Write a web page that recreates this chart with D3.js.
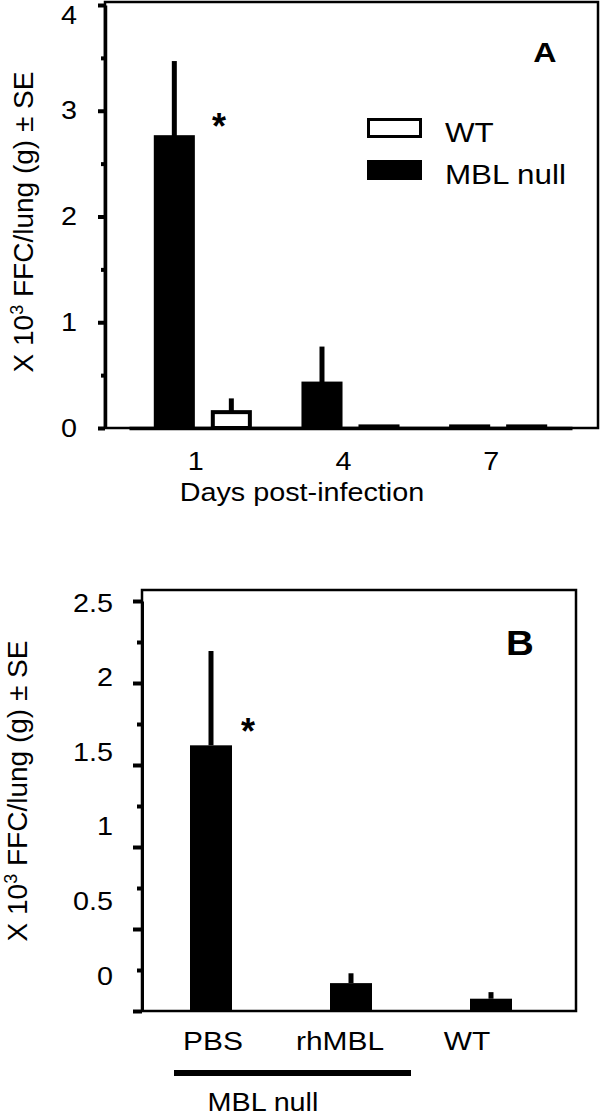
<!DOCTYPE html>
<html>
<head>
<meta charset="utf-8">
<script src="https://cdn.jsdelivr.net/npm/d3@7"></script>
<style>
  body { margin: 0; background: #fff; }
  text { font-family: "Liberation Sans", Arial, sans-serif; fill: #000; }
</style>
</head>
<body>
<script>
// panel A data
var days = ["1", "4", "7"];
var seriesA = ["MBL null", "WT"];
var mblNullMean = [2.75, 0.42, 0.015];
var mblNullSE = [0.72, 0.35, 0];
var wtMean = [0.15, 0.015, 0.015];
var wtSE = [0.13, 0, 0];
var yTicksA = [0, 0.5, 1, 1.5, 2, 2.5, 3, 3.5, 4];

// panel B data
var treatments = ["PBS", "rhMBL", "WT"];
var ffcB = [1.62, 0.17, 0.075];
var seB = [0.575, 0.06, 0.04];
var yTicksB = [0, 0.25, 0.5, 0.75, 1, 1.25, 1.5, 1.75, 2, 2.25, 2.5];
var yLabelsB = [0, 0.5, 1, 1.5, 2, 2.5];

var svg = d3.select("body").append("svg")
    .attr("width", 600)
    .attr("height", 1116);

// glyphs in the figure are a bit wider than the font, stretch them
function stretch(sel, k) {
    sel.each(function () {
        var w = this.getComputedTextLength();
        d3.select(this).attr("textLength", w * k).attr("lengthAdjust", "spacingAndGlyphs");
    });
}

function styleAxis(g, size) {
    g.attr("font-family", null).attr("font-size", null);
    g.selectAll("text").style("font-size", size + "px");
    g.selectAll(".tick line").attr("stroke", "#000").attr("stroke-width", 4);
    g.select(".domain").attr("stroke", "#000").attr("stroke-width", 3.5);
}

// ---------------- panel A ----------------
var yA = d3.scaleLinear().domain([0, 4]).range([428, 5]);
var x0A = d3.scaleBand().domain(days).range([129, 572]);
var x1A = d3.scaleBand().domain(seriesA).range([0, x0A.bandwidth()])
    .paddingInner(0.35).paddingOuter(0.47);

var rowsA = [];
days.forEach(function (d, i) {
    rowsA.push({ day: d, key: "MBL null", mean: mblNullMean[i], se: mblNullSE[i] });
    rowsA.push({ day: d, key: "WT", mean: wtMean[i], se: wtSE[i] });
});

svg.append("rect")
    .attr("x", 105).attr("y", 2)
    .attr("width", 493).attr("height", 426)
    .attr("fill", "none").attr("stroke", "#000").attr("stroke-width", 2.5);

// error bars (drawn first, bar covers the bottom)
svg.append("g").selectAll("line")
    .data(rowsA.filter(function (d) { return d.se > 0; }))
    .enter().append("line")
    .attr("x1", function (d) { return x0A(d.day) + x1A(d.key) + x1A.bandwidth() / 2; })
    .attr("x2", function (d) { return x0A(d.day) + x1A(d.key) + x1A.bandwidth() / 2; })
    .attr("y1", function (d) { return yA(d.mean); })
    .attr("y2", function (d) { return yA(d.mean + d.se); })
    .attr("stroke", "#000")
    .attr("stroke-width", 5);

svg.append("g").selectAll("rect")
    .data(rowsA)
    .enter().append("rect")
    .attr("x", function (d) { return x0A(d.day) + x1A(d.key); })
    .attr("y", function (d) { return yA(d.mean); })
    .attr("width", x1A.bandwidth())
    .attr("height", function (d) { return yA(0) - yA(d.mean); })
    .attr("fill", function (d) { return d.key === "WT" ? "#fff" : "#000"; })
    .attr("stroke", "#000")
    .attr("stroke-width", 4);

// Y axis A
var gyA = svg.append("g")
    .attr("transform", "translate(105,0)")
    .call(d3.axisLeft(yA).tickValues(yTicksA).tickSize(7).tickSizeOuter(0).tickPadding(21)
        .tickFormat(function (d) { return Number.isInteger(d) ? d : ""; }));
styleAxis(gyA, 25);
gyA.selectAll(".tick").filter(function (d) { return !Number.isInteger(d); })
    .select("line").attr("x2", -4);
gyA.selectAll(".tick").filter(function (d) { return d === 4; })
    .select("text").attr("dy", "0.75em");
stretch(gyA.selectAll("text"), 1.15);

// X axis A
var gxA = svg.append("g")
    .attr("transform", "translate(0,428)")
    .call(d3.axisBottom(x0A).tickSize(0).tickPadding(24));
styleAxis(gxA, 25);
gxA.selectAll("text").attr("dx", -7);
stretch(gxA.selectAll("text"), 1.15);

var xlabA = svg.append("text")
    .attr("x", 302).attr("y", 501)
    .attr("text-anchor", "middle")
    .style("font-size", "25px")
    .text("Days post-infection");
stretch(xlabA, 1.15);

function yTitle(x, y) {
    var t = svg.append("text")
        .attr("transform", "translate(" + x + "," + y + ") rotate(-90)")
        .attr("text-anchor", "middle")
        .style("font-size", "28px");
    t.append("tspan").text("X 10");
    t.append("tspan").attr("dy", -10).style("font-size", "18px").text("3");
    t.append("tspan").attr("dy", 10).text(" FFC/lung (g) \u00b1 SE");
}
yTitle(33, 222);

var labA = svg.append("text")
    .attr("x", 545).attr("y", 62)
    .attr("text-anchor", "middle")
    .style("font-size", "28px").style("font-weight", "bold")
    .text("A");
stretch(labA, 1.15);

svg.append("text")
    .attr("x", 219).attr("y", 139)
    .attr("text-anchor", "middle")
    .style("font-size", "36px").style("font-weight", "bold")
    .text("*");

// legend A
var legendKeys = ["WT", "MBL null"];
var legend = svg.append("g").selectAll("g")
    .data(legendKeys)
    .enter().append("g")
    .attr("transform", function (d, i) { return "translate(367," + (118 + i * 42) + ")"; });
legend.append("rect")
    .attr("x", 1.5).attr("y", 1.5)
    .attr("width", 52).attr("height", 17)
    .attr("fill", function (d) { return d === "WT" ? "#fff" : "#000"; })
    .attr("stroke", "#000").attr("stroke-width", 3);
var legText = legend.append("text")
    .attr("x", 78).attr("y", 24)
    .style("font-size", "28px")
    .text(function (d) { return d; });
stretch(legText, 1.12);

// ---------------- panel B ----------------
var yB = d3.scaleLinear().domain([0, 2.5]).range([1011, 601]);
var yLabB = d3.scaleLinear().domain([0, 2.5]).range([976, 603]);
var xB = d3.scaleBand().domain(treatments).range([141, 561])
    .paddingInner(0.7).paddingOuter(0.35);
var xLabB = d3.scaleBand().domain(treatments).range([149.5, 530.5]);

svg.append("rect")
    .attr("x", 142).attr("y", 590)
    .attr("width", 434).attr("height", 421)
    .attr("fill", "none").attr("stroke", "#000").attr("stroke-width", 2.5);

svg.append("g").selectAll("line")
    .data(treatments)
    .enter().append("line")
    .attr("x1", function (d) { return xB(d) + xB.bandwidth() / 2; })
    .attr("x2", function (d) { return xB(d) + xB.bandwidth() / 2; })
    .attr("y1", function (d, i) { return yB(ffcB[i]); })
    .attr("y2", function (d, i) { return yB(ffcB[i] + seB[i]); })
    .attr("stroke", "#000")
    .attr("stroke-width", 5);

svg.append("g").selectAll("rect")
    .data(treatments)
    .enter().append("rect")
    .attr("x", function (d) { return xB(d); })
    .attr("y", function (d, i) { return yB(ffcB[i]); })
    .attr("width", xB.bandwidth())
    .attr("height", function (d, i) { return yB(0) - yB(ffcB[i]); })
    .attr("fill", "#000");

// Y axis B: ticks on the data scale, labels sit a little higher as in the figure
var gyB = svg.append("g")
    .attr("transform", "translate(142,0)")
    .call(d3.axisLeft(yB).tickValues(yTicksB).tickSize(9).tickSizeOuter(0).tickFormat(""));
styleAxis(gyB, 25);
gyB.select(".domain").attr("stroke-width", 3);
gyB.selectAll(".tick").filter(function (d) { return (d * 2) % 1 !== 0; })
    .select("line").attr("x2", -5);

var gyLabB = svg.append("g")
    .attr("transform", "translate(142,0)")
    .call(d3.axisLeft(yLabB).tickValues(yLabelsB).tickSize(0).tickPadding(29)
        .tickFormat(function (d) { return String(d); }));
styleAxis(gyLabB, 25);
gyLabB.select(".domain").remove();
stretch(gyLabB.selectAll("text"), 1.15);

var gxB = svg.append("g")
    .attr("transform", "translate(0,1011)")
    .call(d3.axisBottom(xLabB).tickSize(0).tickPadding(21));
styleAxis(gxB, 26);
gxB.select(".domain").remove();
stretch(gxB.selectAll("text"), 1.15);

svg.append("line")
    .attr("x1", 174).attr("x2", 411)
    .attr("y1", 1073).attr("y2", 1073)
    .attr("stroke", "#000").attr("stroke-width", 6);

var mblB = svg.append("text")
    .attr("x", 263).attr("y", 1111)
    .attr("text-anchor", "middle")
    .style("font-size", "25px")
    .text("MBL null");
stretch(mblB, 1.15);

yTitle(27, 791);

var labB = svg.append("text")
    .attr("x", 520).attr("y", 655)
    .attr("text-anchor", "middle")
    .style("font-size", "35px").style("font-weight", "bold")
    .text("B");
stretch(labB, 1.1);

svg.append("text")
    .attr("x", 248).attr("y", 744)
    .attr("text-anchor", "middle")
    .style("font-size", "36px").style("font-weight", "bold")
    .text("*");
</script>
</body>
</html>
